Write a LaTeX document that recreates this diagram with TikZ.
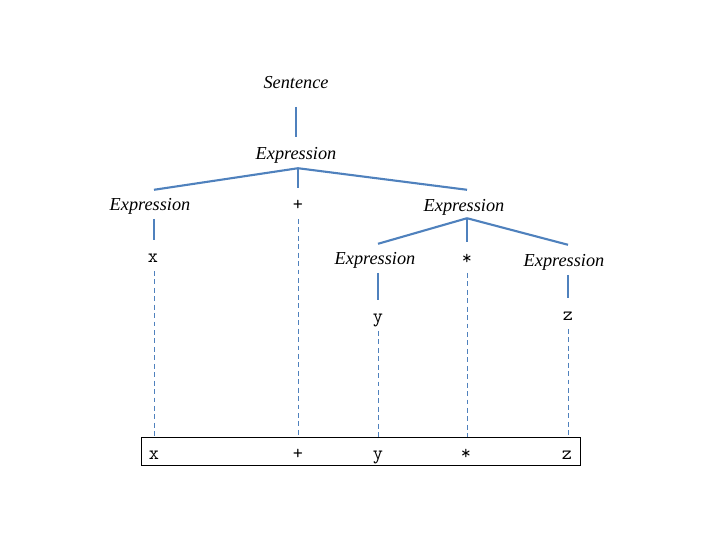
\documentclass[tikz,border=0pt]{standalone}
\usepackage{fontspec}
\setmainfont{Liberation Serif}
\usetikzlibrary{calc}
\definecolor{treeblue}{RGB}{79,129,189}

\begin{document}
\begin{tikzpicture}[x=0.025cm, y=-0.025cm,
    word/.style={inner sep=0pt, text height=9pt, text depth=3pt,
      font=\fontsize{13}{15}\selectfont\itshape},
    tok/.style={inner sep=0pt, text height=9pt, text depth=3pt,
      font=\fontsize{14}{16}\selectfont\ttfamily},
    branch/.style={treeblue, line width=1.5pt, shorten <=3pt, shorten >=6.5pt},
    fork/.style={treeblue, line width=1.5pt},
    link/.style={treeblue, line width=0.7pt, dash pattern=on 3.5pt off 2.5pt, shorten <=3pt}]
  \useasboundingbox (0, 0) rectangle (720, 540);
  % tree
  \node[word] (s) at (296, 84) {Sentence};
  \node[word] (e) at (296, 155) {Expression};
  \node[word] (el) at (150, 206) {Expression};
  \node[tok] (plus) at (298, 206) {+};
  \node[word] (er) at (464, 207) {Expression};
  \node[tok] (x) at (153, 258) {x};
  \node[word] (ery) at (375, 260) {Expression};
  \node[tok] (times) at (467, 260) {*};
  \node[word] (erz) at (564, 262) {Expression};
  \node[tok] (y) at (378, 318) {y};
  \node[tok] (z) at (568, 316) {z};
  % where the branches meet
  \coordinate (ea) at ($(e.south) + (2, 4.5)$);
  \coordinate (era) at ($(er.south) + (3, 2.5)$);
  \draw[branch, shorten <=10pt] (s.south -| e) -- (e.north -| e);
  \draw[fork] (ea) -- ($(el.north) + (4, -7.5)$);
  \draw[fork, shorten >=6.5pt] (ea) -- (plus.north);
  \draw[fork] (ea) -- ($(er.north) + (3, -8.5)$);
  \draw[branch] ($(el.south) + (4, 0)$) -- ($(x.north) + (1, 0)$);
  \draw[fork] (era) -- ($(ery.north) + (3, -7.5)$);
  \draw[fork, shorten >=6.5pt] (era) -- (times.north);
  \draw[fork] (era) -- ($(erz.north) + (4, -8.5)$);
  \draw[branch] ($(ery.south) + (3, 0)$) -- (y.north);
  \draw[branch] ($(erz.south) + (4, 0)$) -- (z.north);
  % sentence box
  \node[draw, line width=0.7pt, minimum width=439*0.025cm, minimum height=28*0.025cm,
    inner sep=0pt] (box) at (360.5, 451) {};
  \node[tok] (bx) at (154, 455) {x};
  \node[tok] (bplus) at (298, 455) {+};
  \node[tok] (by) at (378, 455) {y};
  \node[tok] (btimes) at (466, 455) {*};
  \node[tok] (bz) at (567, 455) {z};
  \draw[link] ($(x.south) + (1, 0)$) -- (bx |- box.north);
  \draw[link] (plus.south) -- (bplus |- box.north);
  \draw[link] (y.south) -- (by |- box.north);
  \draw[link] (times.south) -- (times |- box.north);
  \draw[link] (z.south) -- (z |- box.north);
\end{tikzpicture}
\end{document}
